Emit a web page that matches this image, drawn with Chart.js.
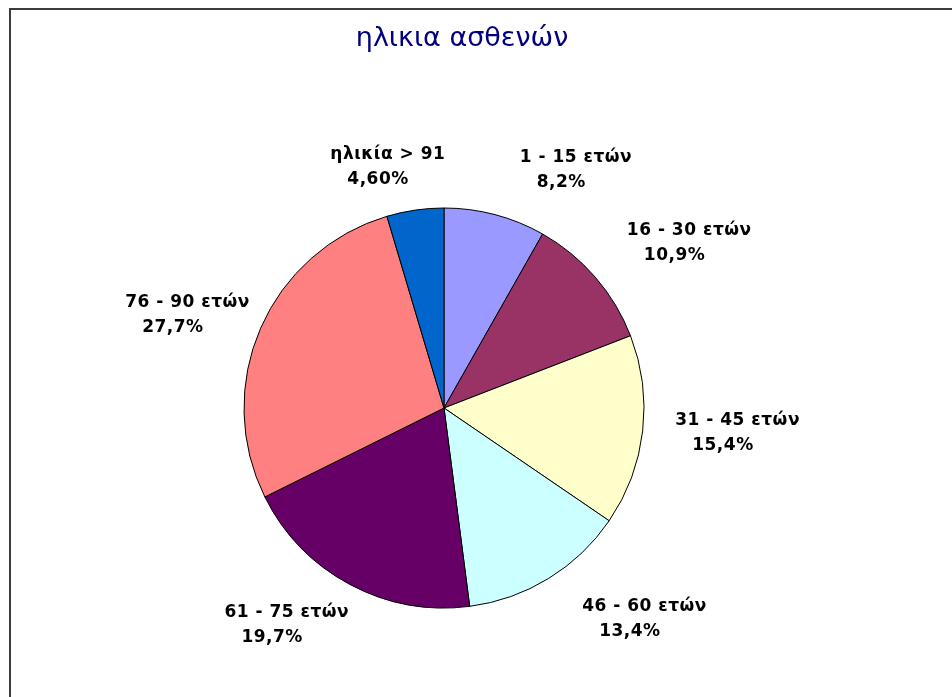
<!DOCTYPE html>
<html lang="el">
<head>
<meta charset="utf-8">
<title>ηλικια ασθενών</title>
<script src="https://cdn.jsdelivr.net/npm/chart.js@4.4.1/dist/chart.umd.min.js"></script>
<style>
  html, body { margin: 0; padding: 0; background: #fff; }
  #ageChart { display: block; }
</style>
</head>
<body>
<canvas id="ageChart" width="952" height="697"></canvas>
<script>
const chartTitle = 'ηλικια ασθενών';
const ageGroups = ['1 - 15 ετών', '16 - 30 ετών', '31 - 45 ετών', '46 - 60 ετών', '61 - 75 ετών', '76 - 90 ετών', 'ηλικία > 91'];
const sharePct = [8.2, 10.9, 15.4, 13.4, 19.7, 27.7, 4.6];
const pctDecimals = [1, 1, 1, 1, 1, 1, 2];
const sliceColors = ['#9999ff', '#993366', '#ffffcc', '#ccffff', '#660066', '#ff8080', '#0066cc'];

function pctText(i) {
  return sharePct[i].toFixed(pctDecimals[i]).replace('.', ',') + '%';
}

// white background, frame along the top/left edge and the heading
const framePlugin = {
  id: 'frame',
  beforeDraw(chart, args, opts) {
    const ctx = chart.ctx;
    ctx.save();
    ctx.fillStyle = '#fff';
    ctx.fillRect(0, 0, chart.width, chart.height);
    ctx.strokeStyle = '#3c3c3c';
    ctx.lineWidth = 2;
    ctx.beginPath();
    ctx.moveTo(10, chart.height);
    ctx.lineTo(10, 9);
    ctx.lineTo(chart.width, 9);
    ctx.stroke();

    // heading sits a bit right of the pie centre, over the whole plot incl. labels
    ctx.fillStyle = '#000080';
    ctx.font = '27px "DejaVu Sans", Verdana, sans-serif';
    ctx.textAlign = 'center';
    ctx.textBaseline = 'alphabetic';
    ctx.fillText(opts.text, chart.chartArea.left + chart.chartArea.width / 2 + opts.dx, opts.baseline);
    ctx.restore();
  }
};

// category name + percentage just outside each slice
const outsideLabels = {
  id: 'outsideLabels',
  afterDatasetsDraw(chart, args, opts) {
    const ctx = chart.ctx;
    const arcs = chart.getDatasetMeta(0).data;
    const lineH = 25;
    ctx.save();
    ctx.font = 'bold 17px "DejaVu Sans", Verdana, sans-serif';
    ctx.letterSpacing = '0.5px';
    ctx.fillStyle = '#000';
    ctx.textAlign = 'left';
    ctx.textBaseline = 'middle';
    arcs.forEach((arc, i) => {
      const p = arc.getProps(['x', 'y', 'startAngle', 'endAngle', 'outerRadius'], true);
      const mid = (p.startAngle + p.endAngle) / 2;
      const name = chart.data.labels[i];
      const pct = pctText(i);
      const w = Math.max(ctx.measureText(name).width, ctx.measureText(pct).width);
      const h = lineH * 2;
      const r = p.outerRadius + opts.gap;
      // box touches the point r away from the centre along the slice middle
      const cx = p.x + Math.cos(mid) * (r + w / 2);
      const cy = p.y + Math.sin(mid) * (r + h / 2);
      const [sx, sy] = opts.shift[i];
      const left = cx - w / 2 + sx;
      const top = cy - h / 2 + sy;
      ctx.fillText(name, left, top + lineH / 2);
      ctx.fillText(pct, left + opts.indent, top + lineH * 1.5);
    });
    ctx.restore();
  }
};

new Chart(document.getElementById('ageChart'), {
  type: 'pie',
  data: {
    labels: ageGroups,
    datasets: [{
      data: sharePct,
      backgroundColor: sliceColors,
      borderColor: '#000',
      borderWidth: 1,
    }],
  },
  options: {
    responsive: false,
    animation: false,
    radius: 200,
    layout: {
      padding: { left: 100, right: 164, top: 157, bottom: 38 },
    },
    plugins: {
      legend: { display: false },
      tooltip: { enabled: false },
      title: { display: false },
      frame: { text: chartTitle, dx: 18, baseline: 46 },
      outsideLabels: {
        gap: 14,
        indent: 17,
        // spread the labels the way the spreadsheet's best-fit layout does
        shift: [[63, -7], [36, -9], [19, -2], [56, 7], [-27, 6], [-3, 2], [-17, -4]],
      },
    },
  },
  plugins: [framePlugin, outsideLabels],
});
</script>
</body>
</html>
